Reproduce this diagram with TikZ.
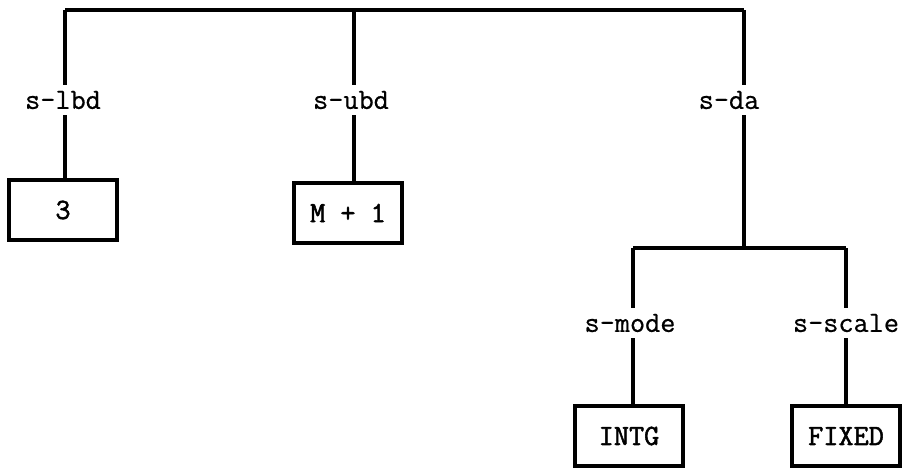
\documentclass[tikz,border=0pt]{standalone}
\usepackage{fontspec}
\newfontfamily\labfont{Latin Modern Mono}[FakeBold=0.6]
\newfontfamily\boxfont{Latin Modern Mono}[FakeBold=1.8]
\usetikzlibrary{calc}

\begin{document}
\begin{tikzpicture}[x=0.5pt, y=-0.5pt,
  edge/.style={line width=1.6pt},
  leaf/.style={draw, line width=1.8pt, minimum width=54pt, minimum height=30pt, inner sep=2pt, font=\boxfont\fontsize{14.7}{16}\selectfont},
  lab/.style={inner sep=3pt, font=\labfont\fontsize{14.7}{16}\selectfont}]
\useasboundingbox (0,0) rectangle (908,468);
\coordinate (tl) at (65,10); %lbd
\coordinate (tm) at (354,10); %ubd
\coordinate (tr) at (744,10); %da
\node[lab] (lbd) at (63,100) {s-lbd};
\node[lab] (ubd) at (351,100) {s-ubd};
\node[lab] (da) at (729,100) {s-da};
\node[leaf] (three) at (63,210) {3};
\node[leaf] (mone) at (348,213) {M + 1};
\coordinate (fork) at (744,248);
\coordinate (fl) at (633,248); %mode
\coordinate (fr) at (846,248); %scale
\node[lab] (mode) at (630,323) {s-mode};
\node[lab] (scale) at (846,323) {s-scale};
\node[leaf] (intg) at (629,436) {INTG};
\node[leaf] (fixed) at (846,436) {FIXED};
% top bar
\draw[edge] (tl) -- (tr);
\draw[edge] (tl) -- (lbd.north -| tl);
\draw[edge] (lbd.south -| tl) -- (three.north -| tl);
\draw[edge] (tm) -- (ubd.north -| tm);
\draw[edge] (ubd.south -| tm) -- (mone.north -| tm);
\draw[edge] (tr) -- (da.north -| tr);
\draw[edge] (da.south -| tr) -- (fork);
% lower fork
\draw[edge] (fl) -- (fr);
\draw[edge] (fl) -- (mode.north -| fl);
\draw[edge] (mode.south -| fl) -- (intg.north -| fl);
\draw[edge] (fr) -- (scale.north -| fr);
\draw[edge] (scale.south -| fr) -- (fixed.north -| fr);
\end{tikzpicture}
\end{document}
